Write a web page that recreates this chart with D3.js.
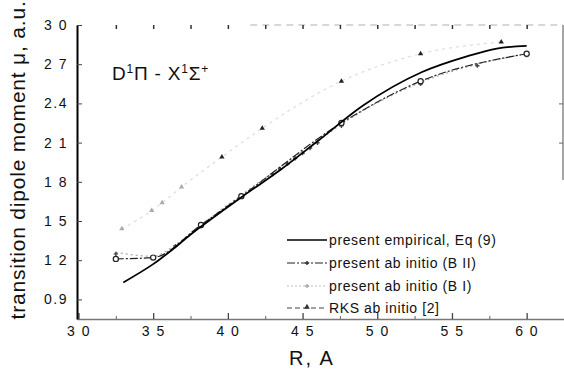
<!DOCTYPE html>
<html>
<head>
<meta charset="utf-8">
<script src="https://cdn.jsdelivr.net/npm/d3@7"></script>
<style>
  body { margin: 0; background: #fff; }
  svg { display: block; font-family: "Liberation Sans", Arial, sans-serif; }
</style>
</head>
<body>
<svg id="chart"></svg>
<script>
// present empirical, Eq (9)
const rEmp = [3.3, 3.5, 3.8, 4.1, 4.35, 4.6, 4.9, 5.3, 5.6, 5.8, 6.0];
const muEmp = [1.03, 1.17, 1.44, 1.69, 1.89, 2.11, 2.38, 2.64, 2.76, 2.82, 2.84];

// present ab initio (B II)
const rB2 = [3.25, 3.5, 3.82, 4.09, 4.76, 5.29, 6.0];
const muB2 = [1.21, 1.22, 1.47, 1.69, 2.25, 2.57, 2.78];

// present ab initio (B I)
const rB1 = [3.25, 3.5, 3.65, 3.82, 4.09, 4.3, 4.35, 4.4, 4.45, 4.5, 4.55, 4.6, 4.76, 5.29, 5.67, 6.0];
const muB1 = [1.26, 1.23, 1.32, 1.47, 1.7, 1.87, 1.91, 1.95, 1.99, 2.03, 2.07, 2.11, 2.24, 2.56, 2.7, 2.78];

// RKS ab initio [2]
const rRks = [3.29, 3.49, 3.56, 3.69, 3.96, 4.23, 4.76, 5.29, 5.83];
const muRks = [1.44, 1.58, 1.64, 1.76, 1.99, 2.21, 2.57, 2.78, 2.87];

const xTicks = [3.0, 3.5, 4.0, 4.5, 5.0, 5.5, 6.0];
const xTickLabels = ["3 0", "3 5", "4 0", "4 5", "5 0", "5 5", "6 0"];
const yTicks = [0.9, 1.2, 1.5, 1.8, 2.1, 2.4, 2.7, 3.0];
const yTickLabels = ["0.9", "1 2", "1 5", "1 8", "2 1", "2.4", "2 7", "3 0"];

const legendLabels = ["present empirical, Eq (9)", "present ab initio (B II)", "present ab initio (B I)", "RKS ab initio [2]"];

const width = 564, height = 376;
const svg = d3.select("#chart").attr("width", width).attr("height", height);

const x = d3.scaleLinear().domain([2.99, 6.25]).range([77, 564]);
const y = d3.scaleLinear().domain([0.75, 3.0]).range([319, 25]);

const zip = (a, b) => a.map((v, i) => [v, b[i]]);

// frame: top dashed border + ticks, right border
svg.append("line")
    .attr("x1", x(4.15)).attr("x2", 563)
    .attr("y1", y(3.0)).attr("y2", y(3.0))
    .attr("stroke", "#ccc").attr("stroke-width", 1.5)
    .attr("stroke-dasharray", "7,5");

svg.append("g")
    .attr("transform", `translate(0,${y(3.0)})`)
    .call(d3.axisTop(x).tickValues(d3.range(3.25, 6.01, 0.25)).tickSize(-4).tickFormat(""))
    .call(g => g.select(".domain").remove())
    .call(g => g.selectAll("line").attr("stroke", "#333").attr("stroke-width", 1.5));

svg.append("line")
    .attr("x1", 563).attr("x2", 563)
    .attr("y1", y(3.0)).attr("y2", 180)
    .attr("stroke", "#888").attr("stroke-width", 1.5);

svg.append("g")
    .attr("transform", "translate(563,0)")
    .call(d3.axisRight(y).tickValues([2.1, 2.4]).tickSize(-4).tickFormat(""))
    .call(g => g.select(".domain").remove())
    .call(g => g.selectAll("line").attr("stroke", "#666"));

// bottom axis
const xAxis = svg.append("g")
    .attr("transform", "translate(0,319)")
    .call(d3.axisBottom(x).tickValues(xTicks).tickSizeInner(-6).tickSizeOuter(0).tickPadding(7)
        .tickFormat((d, i) => xTickLabels[i]));
xAxis.select(".domain").attr("stroke", "#777").attr("stroke-width", 1.5);
xAxis.selectAll("line").attr("stroke", "#444").attr("stroke-width", 1.3);
xAxis.selectAll("text").attr("font-size", 14).attr("fill", "#111")
    .attr("letter-spacing", 1.5)
    .attr("font-family", "Liberation Sans, Arial, sans-serif");

svg.append("g")
    .attr("transform", "translate(0,319)")
    .call(d3.axisBottom(x).tickValues(d3.range(3.25, 6.01, 0.5)).tickSize(-3).tickFormat(""))
    .call(g => g.select(".domain").remove())
    .call(g => g.selectAll("line").attr("stroke", "#666"));

// left axis
const yAxis = svg.append("g")
    .attr("transform", "translate(77,0)")
    .call(d3.axisLeft(y).tickValues(yTicks).tickSizeInner(-5).tickSizeOuter(0).tickPadding(9)
        .tickFormat((d, i) => yTickLabels[i]));
yAxis.select(".domain").attr("stroke", "#000").attr("stroke-width", 2);
yAxis.selectAll("line").attr("stroke", "#444");
yAxis.selectAll("text").attr("font-size", 14).attr("fill", "#111")
    .attr("letter-spacing", 1.5)
    .attr("font-family", "Liberation Sans, Arial, sans-serif");

// axis titles
svg.append("text")
    .attr("transform", "translate(25,160) rotate(-90)")
    .attr("text-anchor", "middle")
    .attr("font-size", 21)
    .attr("letter-spacing", 0.8)
    .attr("fill", "#111")
    .text("transition dipole moment  \u03bc,  a.u.");

svg.append("text")
    .attr("x", 312).attr("y", 365)
    .attr("text-anchor", "middle")
    .attr("font-size", 20)
    .attr("letter-spacing", 2)
    .attr("fill", "#111")
    .text("R, A");

// panel title
const title = svg.append("text")
    .attr("x", 112).attr("y", 80)
    .attr("font-size", 19)
    .attr("letter-spacing", 0.8)
    .attr("fill", "#111");
title.append("tspan").text("D");
title.append("tspan").attr("dy", -7).attr("font-size", 12).text("1");
title.append("tspan").attr("dy", 7).text("\u03a0 - X");
title.append("tspan").attr("dy", -7).attr("font-size", 12).text("1");
title.append("tspan").attr("dy", 7).text("\u03a3");
title.append("tspan").attr("dy", -7).attr("font-size", 12).text("+");

const line = d3.line()
    .x(d => x(d[0]))
    .y(d => y(d[1]))
    .curve(d3.curveMonotoneX);

// RKS
const rks = zip(rRks, muRks);
svg.append("path")
    .datum(rks)
    .attr("d", line)
    .attr("fill", "none")
    .attr("stroke", "#ddd")
    .attr("stroke-width", 1.2)
    .attr("stroke-dasharray", "3,4");
svg.selectAll(".rks")
    .data(rks)
    .enter()
    .append("path")
    .attr("class", "rks")
    .attr("transform", d => `translate(${x(d[0])},${y(d[1])})`)
    .attr("d", d3.symbol(d3.symbolTriangle, 12))
    .attr("fill", (d, i) => i < 4 ? "#aaa" : "#222");

// B I
const b1 = zip(rB1, muB1);
svg.append("path")
    .datum(b1)
    .attr("d", line)
    .attr("fill", "none")
    .attr("stroke", "#aaa")
    .attr("stroke-width", 1.2)
    .attr("stroke-dasharray", "2,3");
svg.selectAll(".b1")
    .data(b1)
    .enter()
    .append("path")
    .attr("class", "b1")
    .attr("transform", d => `translate(${x(d[0])},${y(d[1]) + 1.5})`)
    .attr("d", d3.symbol(d3.symbolCross, 10))
    .attr("fill", "#444");

// B II
const b2 = zip(rB2, muB2);
svg.append("path")
    .datum(b2)
    .attr("d", line)
    .attr("fill", "none")
    .attr("stroke", "#222")
    .attr("stroke-width", 1.2)
    .attr("stroke-dasharray", "8,2,2,2");
svg.selectAll(".b2")
    .data(b2)
    .enter()
    .append("circle")
    .attr("class", "b2")
    .attr("cx", d => x(d[0]))
    .attr("cy", d => y(d[1]))
    .attr("r", 2.6)
    .attr("fill", "#fff")
    .attr("stroke", "#222")
    .attr("stroke-width", 1.2);

// empirical
svg.append("path")
    .datum(zip(rEmp, muEmp))
    .attr("d", line)
    .attr("fill", "none")
    .attr("stroke", "#000")
    .attr("stroke-width", 1.8);

// legend
const legY = [240, 263, 286, 308];
const legStyles = [
    { stroke: "#000", dash: null, w: 1.5 },
    { stroke: "#222", dash: "8,2,2,2", w: 1.2 },
    { stroke: "#bbb", dash: "2,2", w: 1.2 },
    { stroke: "#444", dash: "5,3", w: 1.2 }
];
const leg = svg.selectAll(".leg")
    .data(legendLabels)
    .enter()
    .append("g")
    .attr("class", "leg")
    .attr("transform", (d, i) => `translate(287,${legY[i]})`);
leg.append("line")
    .attr("x1", 0).attr("x2", 40)
    .attr("stroke", (d, i) => legStyles[i].stroke)
    .attr("stroke-width", (d, i) => legStyles[i].w)
    .attr("stroke-dasharray", (d, i) => legStyles[i].dash);
leg.filter((d, i) => i === 3)
    .append("path")
    .attr("transform", "translate(20,-1)")
    .attr("d", d3.symbol(d3.symbolTriangle, 14))
    .attr("fill", "#333");
leg.filter((d, i) => i === 1 || i === 2)
    .append("path")
    .attr("transform", "translate(20,0)")
    .attr("d", d3.symbol(d3.symbolCross, 10))
    .attr("fill", (d, i) => i === 0 ? "#333" : "#aaa");
leg.append("text")
    .attr("x", 42).attr("y", 5)
    .attr("font-size", 14)
    .attr("letter-spacing", 0.6)
    .attr("fill", "#111")
    .text(d => d);
</script>
</body>
</html>
